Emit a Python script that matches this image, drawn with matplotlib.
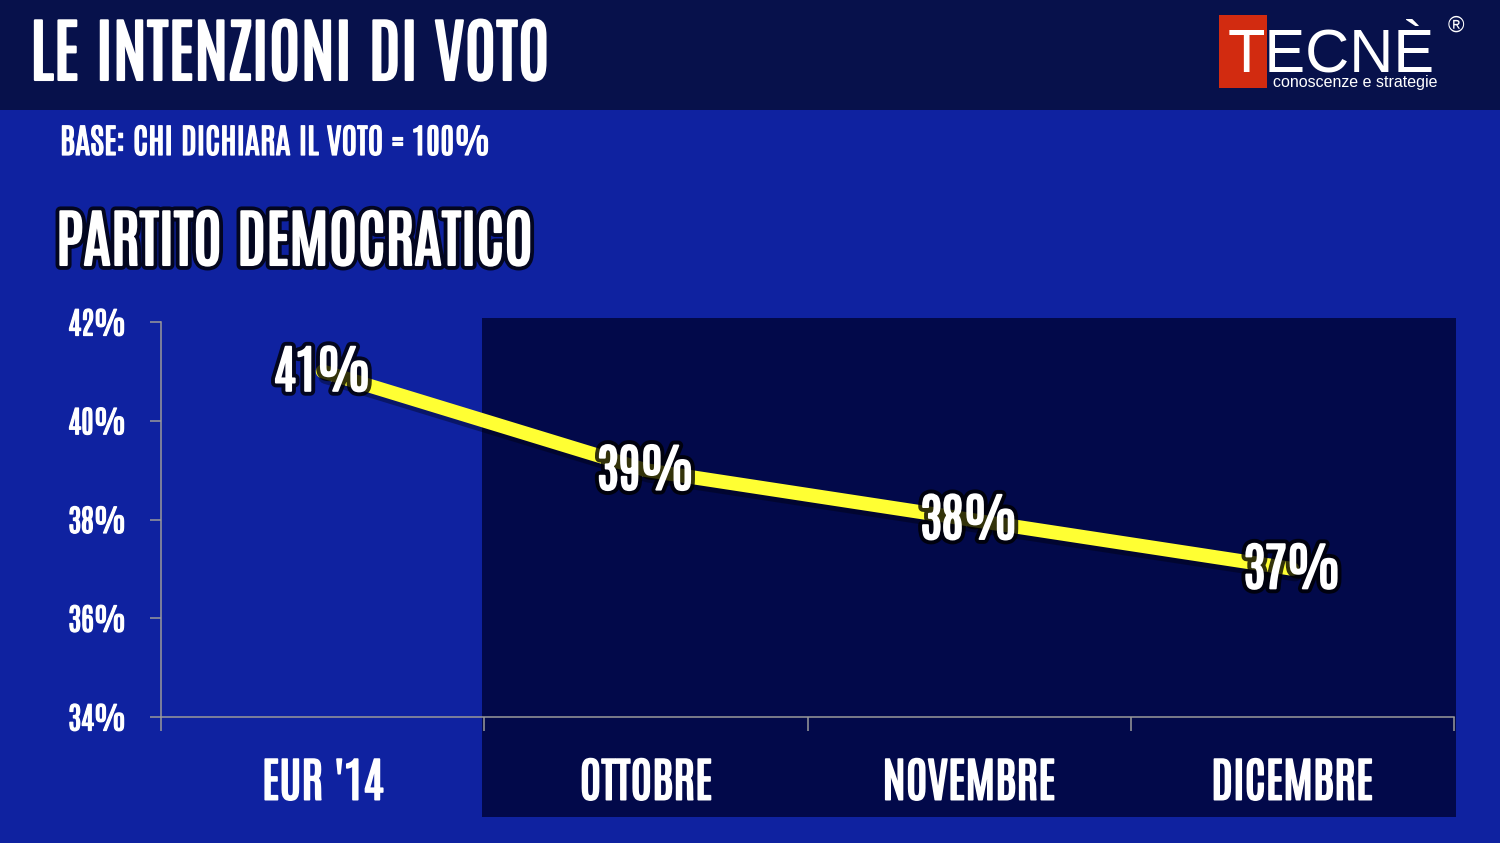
import matplotlib
matplotlib.use('Agg')
import matplotlib.pyplot as plt
import matplotlib.patheffects as pe
from matplotlib.patches import Rectangle

# chart data
CATEGORIES = ["EUR '14", 'OTTOBRE', 'NOVEMBRE', 'DICEMBRE']
PD_VALUES = [41, 39, 38, 37]
Y_TICKS = [34, 36, 38, 40, 42]

# colours
BG_BLUE = '#0f22a0'
TOP_BAND = '#07114b'
DARK_BOX = '#02094a'
LINE_YELLOW = '#ffff33'
AXIS_GRAY = '#9a9a9a'

COND = ['Antonio', 'Oswald', 'DejaVu Sans']
PLAIN = ['Liberation Sans', 'DejaVu Sans']

W, H = 1500, 843


def fx(px):
    return px / W


def fy(py):
    return 1 - py / H


# thicken the condensed face a little (it has no heavy weight)
def heavy(w=1.2):
    return [pe.withStroke(linewidth=w, foreground='white')]


def glow_heavy(w=1.2):
    return [pe.withStroke(linewidth=7, foreground='black', alpha=0.8),
            pe.withStroke(linewidth=w, foreground='white')]


fig = plt.figure(figsize=(15, 8.43), dpi=100, facecolor=BG_BLUE)

# header band and the dark box behind the last three months
fig.patches.append(Rectangle((0, fy(110)), 1, 110 / H, transform=fig.transFigure,
                             facecolor=TOP_BAND, edgecolor='none', zorder=0))
fig.patches.append(Rectangle((fx(482), fy(817)), fx(1456) - fx(482), (817 - 318) / H,
                             transform=fig.transFigure, facecolor=DARK_BOX,
                             edgecolor='none', zorder=0))

ax = fig.add_axes([fx(161), fy(717), fx(1454) - fx(161), (717 - 322) / H])
ax.set_facecolor('none')
ax.set_zorder(2)

x = list(range(len(CATEGORIES)))
ax.plot(x, PD_VALUES, color=LINE_YELLOW, linewidth=10, solid_capstyle='round', zorder=3,
        path_effects=[pe.SimpleLineShadow(offset=(2, -4), shadow_color='black', alpha=0.35),
                      pe.Normal()])

for xi, v in zip(x, PD_VALUES):
    ax.text(xi, v, f'{v}%', ha='center', va='center', color='white', fontsize=37,
            family=COND, zorder=5, path_effects=glow_heavy(1.4))

ax.set_xlim(-0.5, len(CATEGORIES) - 0.5)
ax.set_ylim(34, 42)

# category boundaries as major ticks, names as minor ticks
ax.set_xticks([i - 0.5 for i in range(len(CATEGORIES) + 1)])
ax.set_xticklabels([])
ax.set_xticks(x, CATEGORIES, minor=True)
ax.tick_params(axis='x', which='major', length=10, width=1.1, color=AXIS_GRAY, direction='out')
ax.tick_params(axis='x', which='minor', length=0, pad=30, labelsize=34, labelcolor='white')
for lab in ax.get_xticklabels(minor=True):
    lab.set_family(COND)
    lab.set_path_effects(heavy(1.2))

ax.set_yticks(Y_TICKS, [f'{t}%' for t in Y_TICKS])
ax.tick_params(axis='y', length=8, width=1.1, color=AXIS_GRAY, pad=17, labelsize=22,
               labelcolor='white')
for lab in ax.get_yticklabels():
    lab.set_family(COND)
    lab.set_path_effects(heavy(0.9))

for side in ['top', 'right']:
    ax.spines[side].set_visible(False)
for side in ['left', 'bottom']:
    ax.spines[side].set_color(AXIS_GRAY)
    ax.spines[side].set_linewidth(1.1)

# titles
fig.text(fx(30), fy(80), 'LE INTENZIONI DI VOTO', ha='left', va='baseline', color='white',
         fontsize=50, family=COND, path_effects=heavy(1.5))
fig.text(fx(60), fy(155), 'BASE: CHI DICHIARA IL VOTO = 100%', ha='left', va='baseline',
         color='white', fontsize=24.5, family=COND, path_effects=heavy(0.9))
fig.text(fx(56), fy(265), 'PARTITO DEMOCRATICO', ha='left', va='baseline', color='white',
         fontsize=45, family=COND, path_effects=glow_heavy(1.5))

# logo
fig.patches.append(Rectangle((fx(1219), fy(88)), fx(1267) - fx(1219), (88 - 15) / H,
                             transform=fig.transFigure, facecolor='#d22b10',
                             edgecolor='none', zorder=1))
fig.text(fx(1228), fy(71), 'TECNÈ', ha='left', va='baseline', color='white', fontsize=44,
         family=PLAIN, zorder=2)
fig.text(fx(1273), fy(87), 'conoscenze e strategie', ha='left', va='baseline', color='white',
         fontsize=11.5, family=PLAIN, zorder=2)
fig.text(fx(1448), fy(32), '®', ha='left', va='baseline', color='white', fontsize=16,
         family=PLAIN, zorder=2)

fig.savefig('out.png', dpi=100, facecolor=BG_BLUE)
